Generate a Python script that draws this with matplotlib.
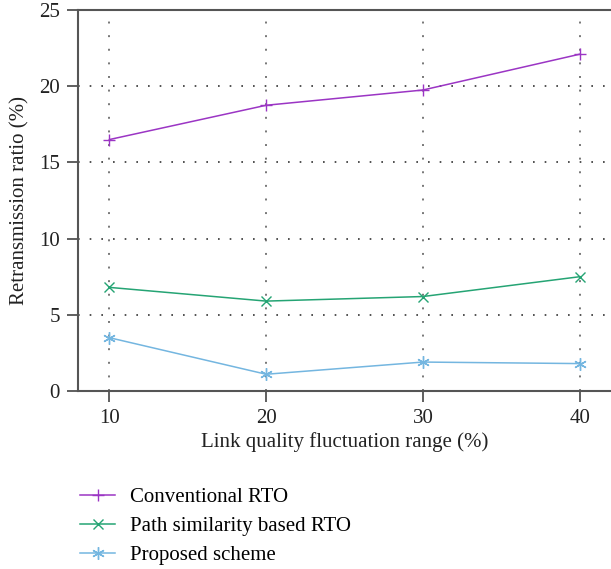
import matplotlib.pyplot as plt

plt.rcParams['font.family'] = ['Liberation Serif', 'DejaVu Serif']

x = [10, 20, 30, 40]
conventional = [16.5, 18.75, 19.75, 22.1]
path_similarity = [6.8, 5.9, 6.2, 7.5]
proposed = [3.5, 1.1, 1.9, 1.8]
labels = ['Conventional RTO', 'Path similarity based RTO', 'Proposed scheme']

fig = plt.figure(figsize=(6.11, 5.69), dpi=100)
ax = fig.add_axes([0.1277, 0.3128, 0.8723, 0.6696])

ax.plot(x, conventional, color='#9b35c4', marker='+', markersize=9, lw=1.1, label=labels[0])
ax.plot(x, path_similarity, color='#25a474', marker='x', markersize=7, lw=1.1, label=labels[1])
ax.plot(x, proposed, color='#74b6e0', marker=(6, 2, 0), markersize=9, lw=1.1, label=labels[2])

ax.set_xlim(8, 42)
ax.set_ylim(0, 25)
ax.set_xticks(x)
ax.set_yticks([0, 5, 10, 15, 20, 25])
ax.yaxis.grid(True, linestyle=(0, (1, 6)), color='#333333', lw=1.2)
ax.xaxis.grid(True, linestyle=(0, (1, 6)), color='#777777', lw=1.4)
ax.tick_params(direction='out', length=8, width=1.2, colors='#444444', labelcolor='#222222',
               labelsize=15, pad=5, top=False, right=False)
for side in ['left', 'bottom', 'top']:
    ax.spines[side].set_color('#555555')
    ax.spines[side].set_linewidth(1.5)
ax.spines['right'].set_visible(False)

ax.set_xlabel('Link quality fluctuation range (%)', fontsize=15, color='#222222', labelpad=3)
ax.set_ylabel('Retransmission ratio (%)', fontsize=15, color='#222222', labelpad=7)

fig.legend(loc='upper left', bbox_to_anchor=(0.131, 0.143), bbox_transform=fig.transFigure,
           frameon=False, fontsize=15, handlelength=1.7, labelspacing=0.45, borderaxespad=0,
           borderpad=0, handletextpad=0.7)

fig.savefig('out.png', dpi=100)
